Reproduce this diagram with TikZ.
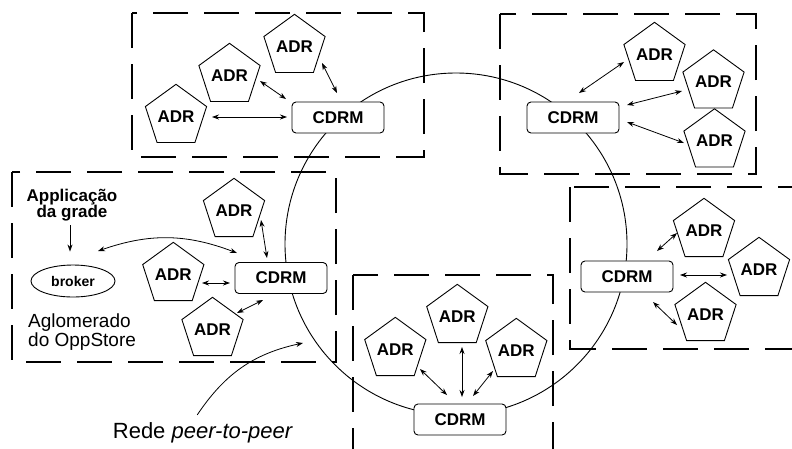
\documentclass[tikz,border=0pt]{standalone}
\usepackage{fontspec}
\setmainfont{Liberation Sans}
\usetikzlibrary{shapes.geometric,arrows.meta,calc}
\begin{document}
\begin{tikzpicture}[x=1pt,y=-1pt,
  adr/.style={regular polygon,regular polygon sides=5,minimum size=55pt,inner sep=0pt,draw,line width=0.9pt,fill=white,font=\fontsize{17}{17}\selectfont\bfseries},
  cdrm/.style={rectangle,rounded corners=4pt,minimum width=92pt,minimum height=31pt,inner sep=0pt,draw,line width=0.9pt,fill=white,font=\fontsize{17}{17}\selectfont\bfseries},
  cluster/.style={draw,line width=1.1pt,dash pattern=on 35pt off 16pt},
  tip/.tip={Stealth[length=7pt,width=5pt]},
  arr/.style={tip-tip,line width=0.8pt},
  arrone/.style={-tip,line width=0.8pt},
]
\useasboundingbox (0,0) rectangle (792,448);
\clip (0,0) rectangle (792,448);

% ring
\node[circle,draw,line width=0.9pt,minimum size=342pt,inner sep=0pt] (ring) at (456,244) {};

% clusters (dashed)
\draw[cluster] (132,13) rectangle (424,157);
\draw[cluster] (500,14) rectangle (756,174);
\draw[cluster] (12,172) rectangle (336,362);
\draw[cluster] (570,187) rectangle (810,349);
\draw[cluster] (353,275) rectangle (553,470);

% top-left cluster
\node[cdrm] (c1) at (338,117.5) {CDRM};
\node[adr] (a11) at (294.5,46.5) {ADR};
\node[adr] (a12) at (229.5,75.5) {ADR};
\node[adr] (a13) at (176,116.5) {ADR};
\draw[arr] ([shift={(36,0.5)}]a13.center) -- ([shift={(-51,-0.5)}]c1.center);
\draw[arr] ([shift={(30.5,5.5)}]a12.center) -- ([shift={(-52,-18.5)}]c1.center);
\draw[arr] ([shift={(27.5,16.5)}]a11.center) -- ([shift={(-1,-24.5)}]c1.center);

% top-right cluster
\node[cdrm] (c2) at (573,117.5) {CDRM};
\node[adr] (a21) at (654.5,54.5) {ADR};
\node[adr] (a22) at (713.5,82) {ADR};
\node[adr] (a23) at (714.5,141) {ADR};
\draw[arr] ([shift={(-30.5,7.5)}]a21.center) -- ([shift={(6,-24.5)}]c2.center);
\draw[arr] ([shift={(-31.5,9)}]a22.center) -- ([shift={(54,-12.5)}]c2.center);
\draw[arr] ([shift={(-30.5,2)}]a23.center) -- ([shift={(54,4.5)}]c2.center);

% left cluster
\node[cdrm] (c3) at (281,278) {CDRM};
\node[adr] (a31) at (234,210.5) {ADR};
\node[adr] (a32) at (173.3,274.5) {ADR};
\node[adr] (a33) at (212.5,329.5) {ADR};
\node[ellipse,draw,line width=0.9pt,minimum width=84pt,minimum height=32pt,inner sep=0pt,font=\fontsize{14}{14}\selectfont\bfseries] (broker) at (73,281) {broker};
\node[anchor=north,inner sep=0pt,align=center,font=\fontsize{17}{16.5}\selectfont\bfseries] (app) at (72,188.5) {Applicação\\da grade};
\node[anchor=north west,inner sep=0pt,align=left,font=\fontsize{19}{19}\selectfont] (aglo) at (28,314) {Aglomerado\\do OppStore};
\draw[arrone] ([shift={(-2,4)}]app.south) -- ([shift={(-3,-13)}]broker.north);
\draw[arr] ([shift={(25,-30)}]broker.center) to[bend left=20] ([shift={(-44,-25)}]c3.center);
\draw[arr] ([shift={(27,9.5)}]a31.center) -- ([shift={(-14,-20)}]c3.center);
\draw[arr] ([shift={(28.7,8.5)}]a32.center) -- ([shift={(-51,5)}]c3.center);
\draw[arr] ([shift={(24.5,-16.5)}]a33.center) -- ([shift={(-18,22)}]c3.center);

% right cluster
\node[cdrm] (c4) at (627,276.5) {CDRM};
\node[adr] (a41) at (704,230.5) {ADR};
\node[adr] (a42) at (759,269.5) {ADR};
\node[adr] (a43) at (705.5,314.5) {ADR};
\draw[arr] ([shift={(-27,2.5)}]a41.center) -- ([shift={(30,-25.5)}]c4.center);
\draw[arr] ([shift={(-32,5.5)}]a42.center) -- ([shift={(53,-1.5)}]c4.center);
\draw[arr] ([shift={(-28.5,10.5)}]a43.center) -- ([shift={(26,25.5)}]c4.center);

% bottom cluster
\node[cdrm] (c5) at (460,419.5) {CDRM};
\node[adr] (a51) at (457.3,316.5) {ADR};
\node[adr] (a52) at (395.3,349.5) {ADR};
\node[adr] (a53) at (516.3,350.5) {ADR};
\draw[arr] ([shift={(4.7,30.5)}]a51.center) -- ([shift={(2,-22.5)}]c5.center);
\draw[arr] ([shift={(24.7,19.5)}]a52.center) -- ([shift={(-13,-24.5)}]c5.center);
\draw[arr] ([shift={(-23.3,20.5)}]a53.center) -- ([shift={(13,-23.5)}]c5.center);

% peer-to-peer label
\node[anchor=base west,inner sep=0pt,font=\fontsize{22}{22}\selectfont] (lbl) at (112.7,438) {Rede \textit{peer-to-peer}};
\coordinate (ringpt) at (303,343);
\draw[arrone] ([shift={(-5.7,-7)}]lbl.north) to[bend left=22] (ringpt);
\end{tikzpicture}
\end{document}
